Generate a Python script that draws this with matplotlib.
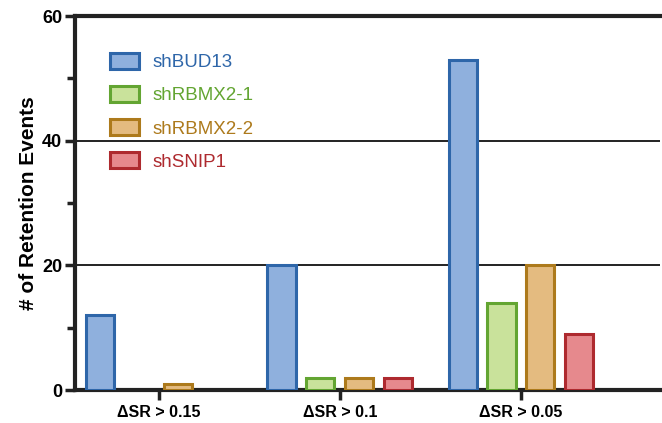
import matplotlib
matplotlib.use("Agg")
import matplotlib.pyplot as plt
import numpy as np
from matplotlib.patches import Patch

plt.rcParams['font.family'] = ['Liberation Sans', 'DejaVu Sans']

categories = ["ΔSR > 0.15", "ΔSR > 0.1", "ΔSR > 0.05"]
series = ["shBUD13", "shRBMX2-1", "shRBMX2-2", "shSNIP1"]
shBUD13 = [12, 20, 53]
shRBMX2_1 = [0, 2, 14]
shRBMX2_2 = [1, 2, 20]
shSNIP1 = [0, 2, 9]
values = [shBUD13, shRBMX2_1, shRBMX2_2, shSNIP1]

edge_colors = ["#2e66a9", "#63a532", "#ad7a1c", "#ae2a2f"]
fill_colors = ["#8fb0dd", "#c9e29b", "#e4bb80", "#e6898d"]

fig = plt.figure(figsize=(6.62, 4.23), dpi=100)
ax = fig.add_axes([0.113, 0.078, 0.884, 0.884])

x = np.arange(len(categories))
step = 0.215
width = 0.155
for i, (name, vals) in enumerate(zip(series, values)):
    bars = ax.bar(x + (i - 1.5) * step, vals, width, color=fill_colors[i],
                  edgecolor=edge_colors[i], linewidth=2.2, label=name, zorder=3)
    for b, v in zip(bars, vals):
        if v == 0:
            b.set_visible(False)

ax.set_xlim(-0.464, 2.768)
ax.set_ylim(0, 60)
ax.set_yticks([0, 20, 40, 60])
ax.set_yticks([10, 30, 50], minor=True)
ax.set_xticks(x)
ax.set_xticklabels(categories, fontweight="bold", fontsize=11.5)
for lab in ax.get_yticklabels():
    lab.set_fontweight("bold")
    lab.set_fontsize(13)
ax.tick_params(axis="both", which="both", direction="out", width=2.5, length=7, color="#222222")
ax.tick_params(axis="y", which="minor", length=6)
ax.tick_params(axis="x", pad=4)
ax.tick_params(axis="y", pad=2)

for y in [20, 40]:
    ax.axhline(y, color="#222222", linewidth=1.4, zorder=1)

for s in ["left", "bottom", "top"]:
    ax.spines[s].set_linewidth(3)
    ax.spines[s].set_color("#222222")
ax.spines["right"].set_visible(False)

ax.set_ylabel("# of Retention Events", fontweight="bold", fontsize=15, labelpad=3)

handles = [Patch(facecolor=fill_colors[i], edgecolor=edge_colors[i], linewidth=2.2, label=series[i])
           for i in range(4)]
leg = ax.legend(handles=handles, loc="upper left", bbox_to_anchor=(0.032, 0.947),
                frameon=False, fontsize=13.5, handlelength=1.5, handleheight=0.95,
                labelspacing=0.78, handletextpad=0.75, labelcolor=edge_colors)

fig.savefig("out.png", dpi=100)
